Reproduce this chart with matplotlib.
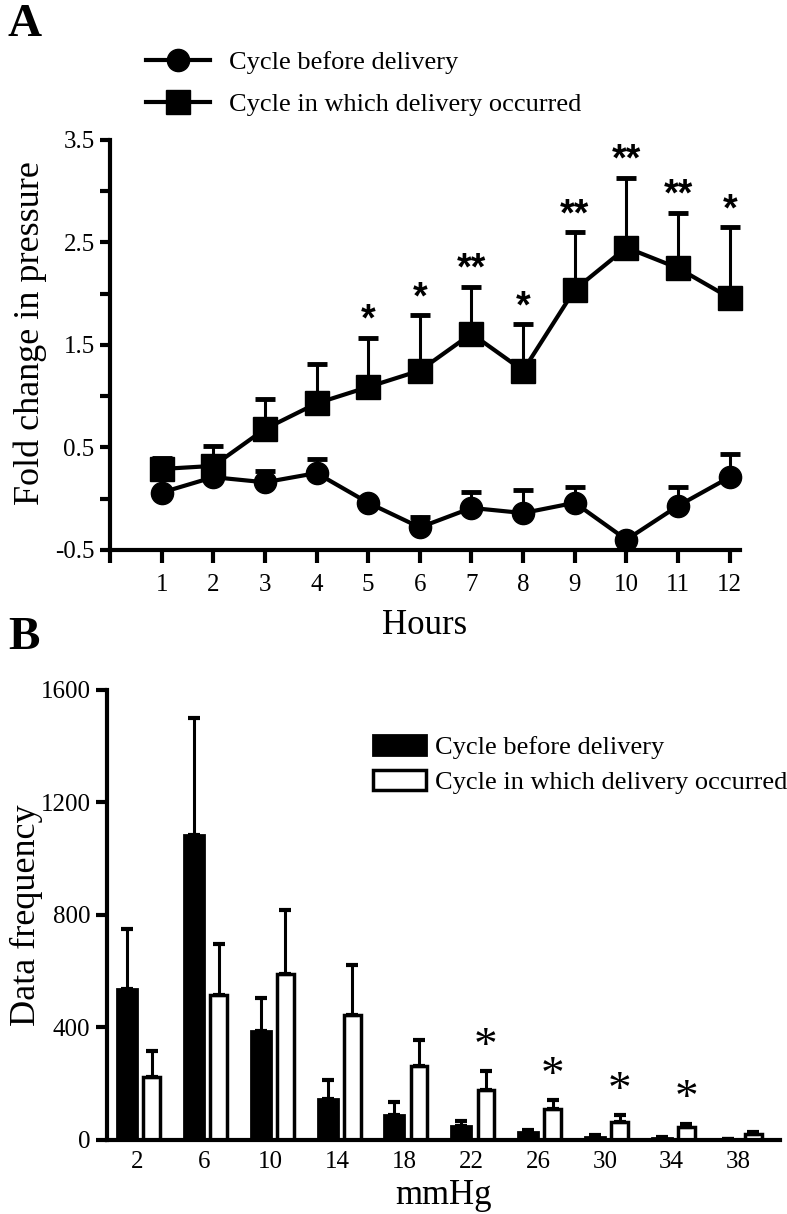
import matplotlib
matplotlib.use('Agg')
from matplotlib import pyplot as plt
from matplotlib.lines import Line2D
from matplotlib.patches import Patch
import numpy as np

plt.rcParams['font.family'] = ['Liberation Serif', 'DejaVu Serif']
plt.rcParams['axes.unicode_minus'] = False

# panel A data
hours = [1, 2, 3, 4, 5, 6, 7, 8, 9, 10, 11, 12]
before_mean = [0.06, 0.21, 0.16, 0.25, -0.04, -0.28, -0.09, -0.14, -0.04, -0.40, -0.07, 0.21]
before_top = [0.06, 0.21, 0.27, 0.39, -0.04, -0.18, 0.07, 0.08, 0.11, -0.40, 0.11, 0.44]
during_mean = [0.29, 0.32, 0.68, 0.93, 1.09, 1.25, 1.61, 1.25, 2.04, 2.45, 2.25, 1.96]
during_top = [0.40, 0.51, 0.97, 1.31, 1.57, 1.79, 2.07, 1.70, 2.60, 3.13, 2.79, 2.65]
stars_a = ['', '', '', '', '*', '*', '**', '*', '**', '**', '**', '*']

# panel B data
mmhg = ['2', '6', '10', '14', '18', '22', '26', '30', '34', '38']
bar_before = [538, 1083, 389, 145, 88, 50, 28, 12, 7, 4]
bar_before_top = [750, 1501, 506, 212, 134, 67, 36, 16, 9, 5]
bar_during = [223, 517, 591, 446, 262, 177, 110, 64, 45, 22]
bar_during_top = [315, 697, 818, 623, 357, 244, 142, 88, 57, 28]
stars_b = ['', '', '', '', '', '*', '*', '*', '*', '']

fig = plt.figure(figsize=(7.87, 12.14), dpi=100)

# ---------------- panel A ----------------
ax = fig.add_axes([0.1398, 0.5470, 0.8005, 0.3377])
h = np.array(hours)
bm = np.array(before_mean); bt = np.array(before_top)
dm = np.array(during_mean); dt = np.array(during_top)

ax.errorbar(h, bm, yerr=[np.zeros_like(bm), bt - bm], fmt='-o', color='black',
            lw=3, ms=16, elinewidth=2.2, capsize=7, capthick=3.5, clip_on=False, zorder=3)
ax.errorbar(h, dm, yerr=[np.zeros_like(dm), dt - dm], fmt='-s', color='black',
            lw=3, ms=17, elinewidth=2.2, capsize=7, capthick=3.5, clip_on=False, zorder=4)
for xi, top, s in zip(hours, during_top, stars_a):
    if s:
        ax.annotate(s, (xi, top), xytext=(0, 5), textcoords='offset points',
                    ha='center', va='baseline', fontsize=27, fontweight='bold',
                    family=['Liberation Sans', 'DejaVu Sans'])

ax.set_xlim(0, 12.2)
ax.set_ylim(-0.5, 3.5)
ax.set_xticks(range(0, 13))
ax.set_xticklabels([''] + [str(v) for v in hours])
ax.set_yticks([-0.5, 0.5, 1.5, 2.5, 3.5])
ax.set_yticks([0, 1, 2, 3], minor=True)
ax.spines['top'].set_visible(False)
ax.spines['right'].set_visible(False)
for sp in ['left', 'bottom']:
    ax.spines[sp].set_linewidth(3)
ax.tick_params(axis='x', length=9, width=3, labelsize=18, pad=8)
ax.tick_params(axis='y', which='both', length=7, width=3, labelsize=18, pad=4)
ax.set_xlabel('Hours', fontsize=25, labelpad=10)
ax.set_ylabel('Fold change in pressure', fontsize=26)
ax.yaxis.set_label_coords(-0.10, 0.53)

handles_a = [Line2D([], [], color='black', lw=3, marker='o', ms=16),
             Line2D([], [], color='black', lw=3, marker='s', ms=17)]
fig.legend(handles_a, ['Cycle before delivery', 'Cycle in which delivery occurred'],
           loc='upper left', bbox_to_anchor=(0.186, 0.9585), frameon=False,
           fontsize=19, handlelength=2.4, handletextpad=0.72, labelspacing=0.72,
           borderpad=0, borderaxespad=0)

fig.text(0.01, 0.997, 'A', fontsize=34, fontweight='bold', va='top', ha='left')

# ---------------- panel B ----------------
bx = fig.add_axes([0.136, 0.0610, 0.855, 0.3707])
xi = np.arange(len(mmhg))
b1 = np.array(bar_before); b1t = np.array(bar_before_top)
b2 = np.array(bar_during); b2t = np.array(bar_during_top)

bx.bar(xi - 0.15, b1, width=0.3, color='black', edgecolor='black', lw=2)
bx.bar(xi + 0.22, b2, width=0.25, color='white', edgecolor='black', lw=2.5)
bx.errorbar(xi - 0.15, b1, yerr=[np.zeros_like(b1), b1t - b1], fmt='none', ecolor='black',
            elinewidth=2.2, capsize=4.5, capthick=3)
bx.errorbar(xi + 0.22, b2, yerr=[np.zeros_like(b2), b2t - b2], fmt='none', ecolor='black',
            elinewidth=2.2, capsize=4.5, capthick=3)
for x0, top, s in zip(xi, bar_during_top, stars_b):
    if s:
        bx.annotate(s, (x0 + 0.22, top), xytext=(0, 9), textcoords='offset points',
                    ha='center', va='baseline', fontsize=34)

bx.set_xlim(-0.45, 9.62)
bx.set_ylim(0, 1600)
bx.set_xticks(xi)
bx.set_xticklabels(mmhg)
bx.set_yticks([0, 400, 800, 1200, 1600])
bx.spines['top'].set_visible(False)
bx.spines['right'].set_visible(False)
for sp in ['left', 'bottom']:
    bx.spines[sp].set_linewidth(3)
bx.tick_params(axis='x', length=0, labelsize=18, pad=8)
bx.tick_params(axis='y', length=8, width=3, labelsize=18, pad=4)
bx.set_xlabel('mmHg', fontsize=25, labelpad=4)
bx.set_ylabel('Data frequency', fontsize=26)
bx.yaxis.set_label_coords(-0.095, 0.5)

handles_b = [Patch(facecolor='black', edgecolor='black', lw=2),
             Patch(facecolor='white', edgecolor='black', lw=2.5)]
bx.legend(handles_b, ['Cycle before delivery', 'Cycle in which delivery occurred'],
          loc='upper left', bbox_to_anchor=(0.395, 0.90), frameon=False,
          fontsize=19, handlelength=2.0, handleheight=0.8, handletextpad=0.35,
          labelspacing=0.4, borderpad=0, borderaxespad=0)

fig.text(0.01, 0.492, 'B', fontsize=34, fontweight='bold', va='top', ha='left')

fig.savefig('out.png', dpi=100)
